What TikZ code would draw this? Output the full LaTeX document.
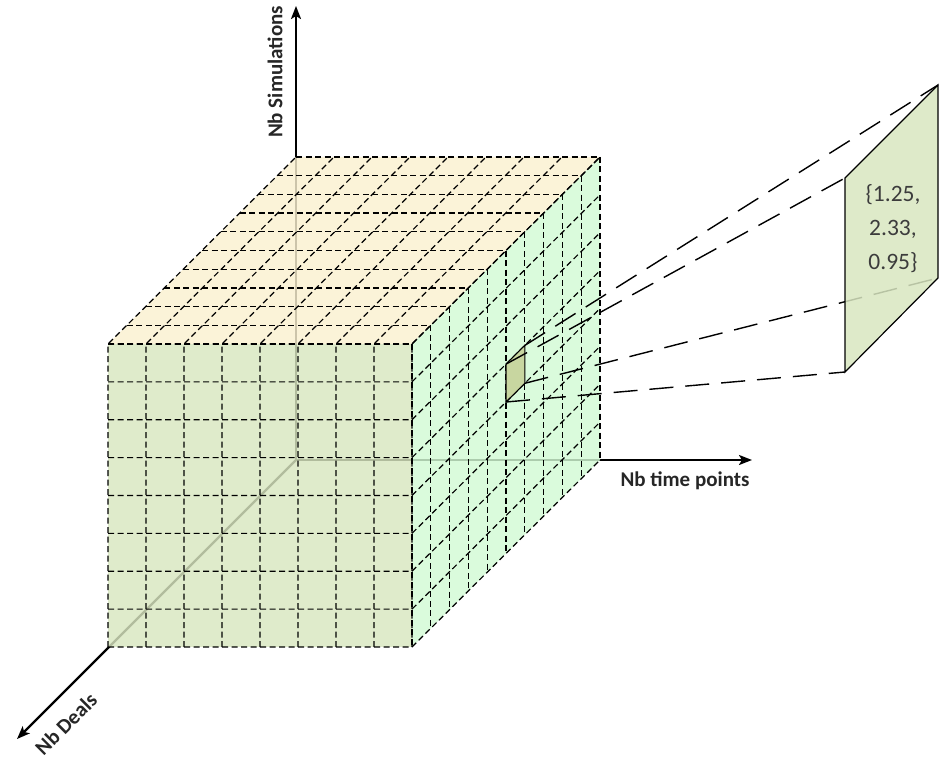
\documentclass[tikz,border=0pt]{standalone}
\usepackage{fontspec}
\setmainfont{Carlito}
\usetikzlibrary{arrows.meta}
\definecolor{topc}{RGB}{250,240,208}
\definecolor{frontc}{RGB}{216,230,192}
\definecolor{rightc}{RGB}{210,250,212}
\definecolor{cellc}{RGB}{200,214,160}
\definecolor{txt}{RGB}{38,38,38}
\definecolor{valtxt}{RGB}{60,60,60}
\tikzset{
  axisline/.style={line width=2.2pt, -{Stealth[length=13pt,width=10pt,inset=3pt]}},
  gridline/.style={line width=1.2pt, dash pattern=on 6pt off 3.5pt},
  proj/.style={line width=1.4pt, dash pattern=on 24pt off 12pt},
  face/.style={fill opacity=0.82},
  axlabel/.style={font=\fontsize{21}{25}\selectfont\bfseries, text=txt, inner sep=0pt},
}
\begin{document}
\begin{tikzpicture}[x=1pt,y=-1pt]
\path[use as bounding box] (0,0) rectangle (946,757);
% axes
\coordinate (O) at (296,460);
\coordinate (Ytip) at (296,6);
\coordinate (Xtip) at (752,460);
\coordinate (Ztip) at (17,739);
\draw[axisline] (O) -- (Ytip);
\draw[axisline] (O) -- (Xtip);
\draw[axisline] (O) -- (Ztip);
\node[axlabel, rotate=90] (ysim) at (275,72) {Nb Simulations};
\node[axlabel] (xtp) at (685,481) {Nb time points};
\node[axlabel, rotate=45] (zdeal) at (66,724) {Nb Deals};
% cube
\begin{scope}[shift={(296pt,-460pt)}, x={(38pt,0pt)}, y={(0pt,37.875pt)}, z={(-18.8pt,-18.7pt)}]
  \fill[topc, face] (0,8,10) -- (0,8,0) -- (8,8,0) -- (8,8,10) -- cycle;
  \fill[frontc, face] (0,0,10) -- (8,0,10) -- (8,8,10) -- (0,8,10) -- cycle;
  \fill[rightc, face] (8,0,10) -- (8,0,0) -- (8,8,0) -- (8,8,10) -- cycle;
  \foreach \i in {0,...,8} \draw[gridline] (\i,0,10) -- (\i,8,10) -- (\i,8,0);
  \foreach \j in {0,...,8} \draw[gridline] (0,\j,10) -- (8,\j,10) -- (8,\j,0);
  \foreach \k in {0,...,10} \draw[gridline] (0,8,\k) -- (8,8,\k) -- (8,0,\k);
  \coordinate (cBL) at (8,4,5);
  \coordinate (cBR) at (8,4,4);
  \coordinate (cTR) at (8,5,4);
  \coordinate (cTL) at (8,5,5);
  \draw[fill=cellc, line width=1.1pt] (cBL) -- (cBR) -- (cTR) -- (cTL) -- cycle;
\end{scope}
% enlarged cell
\coordinate (pTL) at (845,178);
\coordinate (pBL) at (845,372);
\coordinate (pTR) at (938,85);
\coordinate (pBR) at (938,278);
\draw[proj] (cBR) -- (pBR);
\filldraw[fill=frontc, fill opacity=0.85, draw=black, line width=1.2pt] (pTL) -- (pTR) -- (pBR) -- (pBL) -- cycle;
\draw[proj] (cTR) -- (pTR);
\draw[proj] (cTL) -- (pTL);
\draw[proj] (cBL) -- (pBL);
\node[font=\fontsize{23.5}{34}\selectfont, text=valtxt, align=center, inner sep=0pt] (val) at (893,229) {\{1.25,\\2.33,\\0.95\}};
\end{tikzpicture}
\end{document}
